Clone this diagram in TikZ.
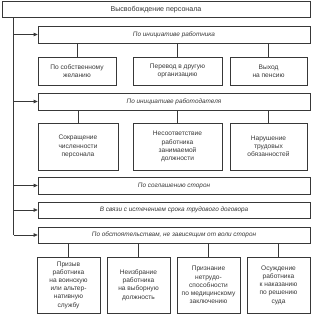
\documentclass[tikz,border=0pt]{standalone}
\usepackage{fontspec}
\setmainfont{Liberation Sans}
\usetikzlibrary{arrows.meta}
\definecolor{ink}{HTML}{383838}
\begin{document}
\begin{tikzpicture}[x=1pt,y=-1pt,
  box/.style={draw=ink,line width=0.75pt,rectangle,inner sep=0pt,text=ink,align=center,
    font=\fontsize{6.6}{8.2}\selectfont},
  head/.style={box,minimum width=308pt,minimum height=15.5pt,font=\fontsize{7.1}{8}\selectfont},
  cat/.style={box,minimum width=272pt,font=\fontsize{6.4}{8}\selectfont\itshape},
  sub/.style={box},
  link/.style={draw=ink,line width=0.75pt},
  arr/.style={link,-{Triangle[length=4pt,width=3.6pt]}}]
\useasboundingbox[fill=white] (0,0) rectangle (313,315);
\node[head] (top) at (156,9.25) {Высвобождение персонала};
\node[cat,minimum height=17pt] (c1) at (174,34.5) {По инициативе работника};
\node[sub,minimum width=78pt,minimum height=28pt] (r1a) at (77,71) {По собственному\\желанию};
\node[sub,minimum width=89pt,minimum height=28pt] (r1b) at (177.5,71) {Перевод в другую\\организацию};
\node[sub,minimum width=77pt,minimum height=28pt] (r1c) at (268.5,71) {Выход\\на пенсию};
\node[cat,minimum height=17pt] (c2) at (174,101.5) {По инициативе работодателя};
\node[sub,minimum width=80pt,minimum height=47pt] (r2a) at (78,146.5) {Сокращение\\численности\\персонала};
\node[sub,minimum width=89pt,minimum height=47pt] (r2b) at (177.5,146.5) {Несоответствие\\работника\\занимаемой\\должности};
\node[sub,minimum width=77pt,minimum height=47pt] (r2c) at (268.5,146.5) {Нарушение\\трудовых\\обязанностей};
\node[cat,minimum height=17pt] (c3) at (174,185.5) {По соглашению сторон};
\node[cat,minimum height=16pt] (c4) at (174,210) {В связи с истечением срока трудового договора};
\node[cat,minimum height=16pt] (c5) at (174,235) {По обстоятельствам, не зависящим от воли сторон};
\node[sub,minimum width=63pt,minimum height=56pt] (r3a) at (68.5,285) {Призыв\\работника\\на воинскую\\или альтер-\\нативную\\службу};
\node[sub,minimum width=63pt,minimum height=56pt] (r3b) at (138.5,285) {Неизбрание\\работника\\на выборную\\должность};
\node[sub,minimum width=63pt,minimum height=56pt] (r3c) at (208.5,285) {Признание\\нетрудо-\\способности\\по медицинскому\\заключению};
\node[sub,minimum width=63pt,minimum height=56pt] (r3d) at (278.5,285) {Осуждение\\работника\\к наказанию\\по решению\\суда};
% trunk
\coordinate (t0) at (13.5,17);
\coordinate (t1) at (13.5,235);
\draw[link] (top.south -| t0) -- (t1);
\foreach \c in {c1,c2,c3,c4,c5}{
  \draw[arr] (\c.west -| t0) -- (\c.west);
}
% branches
\foreach \p/\k in {c1/r1a,c1/r1b,c1/r1c,c2/r2a,c2/r2b,c2/r2c,c5/r3a,c5/r3b,c5/r3c,c5/r3d}{
  \draw[link] (\k.north |- \p.south) -- (\k.north);
}
\end{tikzpicture}
\end{document}
